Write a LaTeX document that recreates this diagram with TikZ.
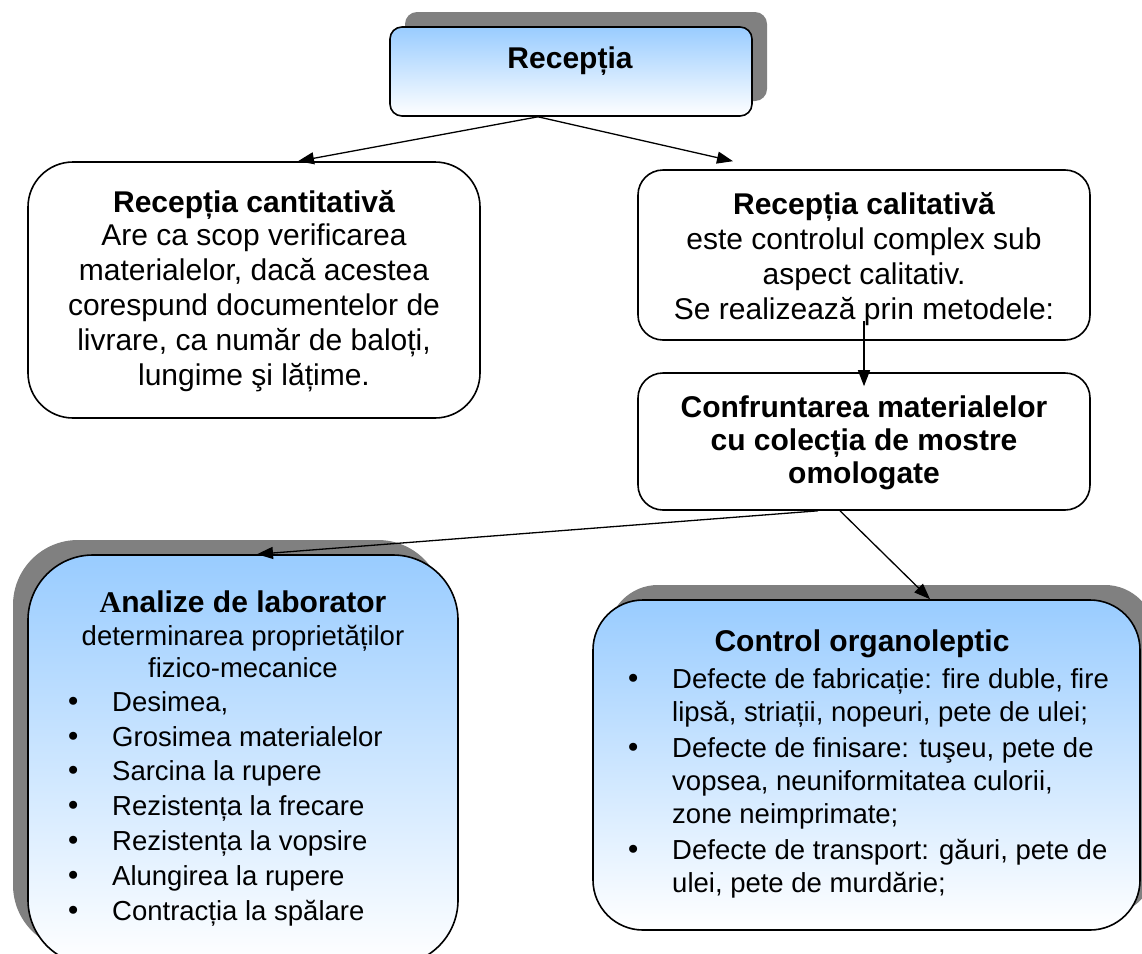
\documentclass[tikz,border=0pt]{standalone}
\usepackage{fontspec}
\setmainfont{Liberation Sans}
\newfontfamily\timesfont{Liberation Serif}
\newfontfamily\dotfont{DejaVu Sans}
\usetikzlibrary{arrows.meta,shadows}
\definecolor{boxblue}{RGB}{153,204,255}
\definecolor{shadowgray}{RGB}{128,128,128}
\newcommand{\itm}{\makebox[44pt][l]{\hspace*{-3pt}{\dotfont •}}}
\newcommand{\cnt}{\hspace*{44pt}}

\begin{document}
\begin{tikzpicture}[x=1pt,y=-1pt,box/.style={draw,line width=1.6pt,inner sep=0pt,fill=white},blue box/.style={box,top color=boxblue,bottom color=white},
shadow right/.style={drop shadow={shadow xshift=15pt,shadow yshift=15pt,fill=shadowgray,opacity=1}},shadow left/.style={drop shadow={shadow xshift=-15pt,shadow yshift=15pt,fill=shadowgray,opacity=1}},
txt/.style={inner sep=0pt,anchor=base,align=center,font=\fontsize{30}{35}\selectfont},head/.style={txt,font=\bfseries\fontsize{30}{33}\selectfont},
list/.style={inner sep=0pt,anchor=base west,align=left,font=\fontsize{27.5}{33}\selectfont},link/.style={line width=1.3pt,-{Triangle[length=16pt,width=12pt]}}]
\useasboundingbox (0,0) rectangle (1142,953);
\fill[white] (0,0) rectangle (1142,953);
% boxes
\node[blue box,shadow right,rounded corners=12pt,minimum width=362pt,minimum height=89pt] (rec) at (571,71.5) {};
\node[box,rounded corners=45pt,minimum width=452pt,minimum height=256pt] (cant) at (254,290) {};
\node[box,rounded corners=25pt,minimum width=452pt,minimum height=170pt] (cal) at (864,255) {};
\node[box,rounded corners=25pt,minimum width=452pt,minimum height=137pt] (conf) at (864,441.5) {};
\node[blue box,shadow left,rounded corners=65pt,minimum width=430pt,minimum height=410pt] (anl) at (243,760) {};
\node[blue box,shadow right,rounded corners=50pt,minimum width=547pt,minimum height=330pt] (ctrl) at (866.5,765) {};
% texts (multi-line nodes sit on the baseline of their last line)
\node[head] (rectit) at (570,68) {Recepția};
\node[head] (canttit) at (254,212) {Recepția cantitativă};
\node[txt] (canttxt) at (254,385) {Are ca scop verificarea\\materialelor, dacă acestea\\corespund documentelor de\\livrare, ca număr de baloți,\\lungime şi lățime.};
\node[head] (caltit) at (864,214) {Recepția calitativă};
\node[txt] (caltxt) at (864,319) {este controlul complex sub\\aspect calitativ.\\Se realizează prin metodele:};
\node[head] (conftit) at (864,483) {Confruntarea materialelor\\cu colecția de mostre\\omologate};
\node[head] (anltit) at (243,612) {{\timesfont A}nalize de laborator};
\node[txt,font=\fontsize{27.5}{32}\selectfont] (anlsub) at (243,677) {determinarea proprietăților\\fizico-mecanice};
\node[list,font=\fontsize{27.5}{34.8}\selectfont] (anllist) at (68,920) {\itm Desimea,\\\itm Grosimea materialelor\\\itm Sarcina la rupere\\\itm Rezistența la frecare\\\itm Rezistența la vopsire\\\itm Alungirea la rupere\\\itm Contracția la spălare};
\node[head] (ctrltit) at (862,651) {Control organoleptic};
\node[list] (ctrllist) at (628,892) {\itm Defecte de fabricație: fire duble, fire\\\cnt lipsă, striații, nopeuri, pete de ulei;\\[3pt]
\itm Defecte de finisare: tuşeu, pete de\\\cnt vopsea, neuniformitatea culorii,\\\cnt zone neimprimate;\\[3pt]
\itm Defecte de transport: găuri, pete de\\\cnt ulei, pete de murdărie;};
% arrows
\draw[link] ([xshift=-33pt]rec.south) -- ([xshift=44pt]cant.north);
\draw[link] ([xshift=-33pt]rec.south) -- ([xshift=-131pt,yshift=8pt]cal.north);
\draw[link] ([yshift=20pt]cal.south) -- ([yshift=-14pt]conf.north);
\draw[link] ([xshift=-46pt]conf.south) -- ([xshift=14pt]anl.north);
\draw[link] ([xshift=-24pt]conf.south) -- ([xshift=63.5pt]ctrl.north);
\end{tikzpicture}
\end{document}
